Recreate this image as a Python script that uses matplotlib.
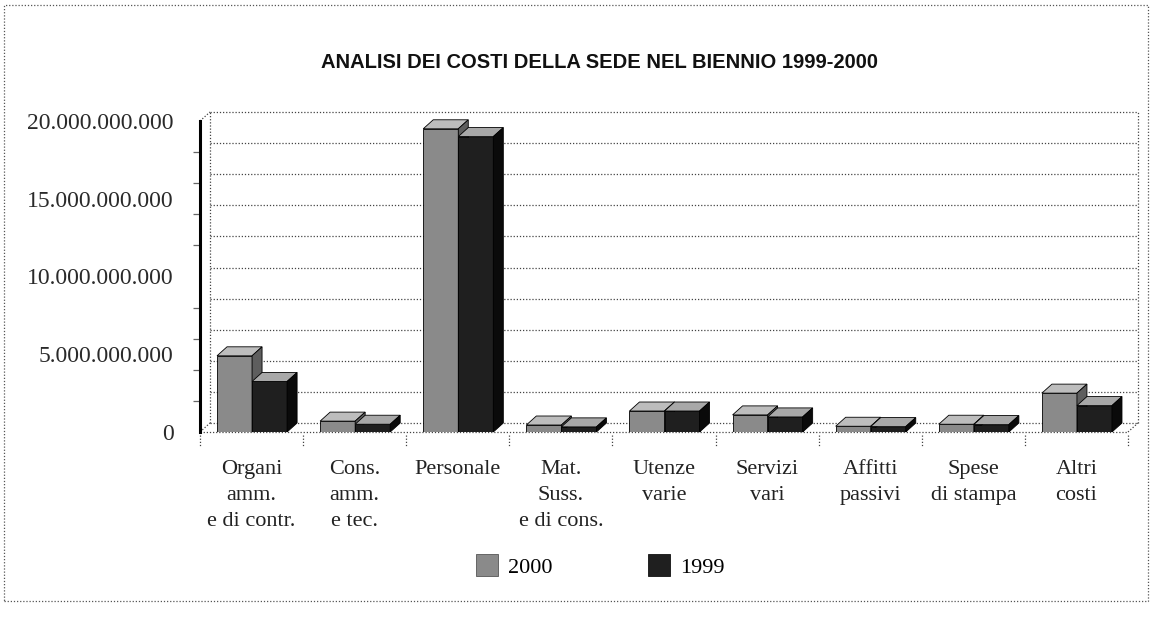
import matplotlib.pyplot as plt
import numpy as np
from matplotlib.patches import Polygon, Rectangle, Patch

categories = ['Organi\namm.\ne di contr.', 'Cons.\namm.\ne tec.', 'Personale',
              'Mat.\nSuss.\ne di cons.', 'Utenze\nvarie', 'Servizi\nvari',
              'Affitti\npassivi', 'Spese\ndi stampa', 'Altri\ncosti']
costi_2000 = [4.9e9, 0.7e9, 19.5e9, 0.45e9, 1.35e9, 1.1e9, 0.37e9, 0.5e9, 2.5e9]
costi_1999 = [3.25e9, 0.5e9, 19.0e9, 0.33e9, 1.35e9, 0.97e9, 0.35e9, 0.48e9, 1.7e9]
y_labels = [0, 5e9, 10e9, 15e9, 20e9]

W, H = 1153, 618
fig = plt.figure(figsize=(W / 100, H / 100), dpi=100)
fig.patch.set_facecolor('white')

# front plane of the 3d box
left, right, bottom, top = 200, 1128, 432, 121
ax = fig.add_axes([left / W, 1 - bottom / H, (right - left) / W, (bottom - top) / H])
n = len(categories)
ymax = 20e9
ax.set_xlim(0, n)
ax.set_ylim(0, ymax)
for s in ax.spines.values():
    s.set_visible(False)

# depth offsets (pixels -> data)
dx = 10 * n / (right - left)
dy = 9 * ymax / (bottom - top)

grid_kw = dict(color='#444444', lw=0.9, ls=(0, (1, 1.5)), clip_on=False, zorder=1)
for v in np.arange(0, ymax + 1, 2e9):
    ax.plot([dx, n + dx], [v + dy, v + dy], **grid_kw)
ax.plot([dx, dx], [dy, ymax + dy], **grid_kw)
ax.plot([n + dx, n + dx], [dy, ymax + dy], **grid_kw)
ax.plot([0, n], [0, 0], **grid_kw)
ax.plot([n, n + dx], [0, dy], **grid_kw)
ax.plot([0, dx], [0, dy], **grid_kw)
ax.plot([0, dx], [ymax, ymax + dy], **grid_kw)
for i in range(n + 1):
    ax.plot([i, i], [-0.2e9, -0.9e9], **grid_kw)

# front value axis
ax.plot([0, 0], [0, ymax], color='black', lw=2.2, clip_on=False, zorder=2)
ax.set_yticks(y_labels)
ax.set_yticklabels([f'{v:,.0f}'.replace(',', '.') for v in y_labels],
                   family='Liberation Serif', fontsize=17, color='#2a2a2a')
ax.set_yticks(np.arange(0, ymax + 1, 2e9), minor=True)
ax.tick_params(axis='y', which='major', length=0, pad=19)
ax.tick_params(axis='y', which='minor', length=5, width=0.9, color='#666666')

ax.set_xticks(np.arange(n) + 0.5)
ax.set_xticklabels(categories, family='Liberation Serif', fontsize=16,
                   color='#222222', linespacing=1.5)
ax.tick_params(axis='x', length=0, pad=20)

bw = 35 / 103
x0_2000 = 17 / 103
styles = [
    (costi_2000, x0_2000, '#8a8a8a', '#bdbdbd', '#5e5e5e'),
    (costi_1999, x0_2000 + bw, '#1f1f1f', '#a8a8a8', '#0a0a0a'),
]
for i in range(n):
    for vals, off, front, topc, side in styles:
        h = vals[i]
        xa = i + off
        xb = xa + bw
        ax.bar(xa, h, width=bw, align='edge', color=front, edgecolor='black',
               lw=0.6, zorder=3)
        ax.add_patch(Polygon([(xa, h), (xb, h), (xb + dx, h + dy), (xa + dx, h + dy)],
                             closed=True, fc=topc, ec='black', lw=0.6, zorder=3,
                             clip_on=False))
        ax.add_patch(Polygon([(xb, 0), (xb + dx, dy), (xb + dx, h + dy), (xb, h)],
                             closed=True, fc=side, ec='black', lw=0.6, zorder=3,
                             clip_on=False))

fig.text(599 / W, 1 - 62 / H, 'ANALISI DEI COSTI DELLA SEDE NEL BIENNIO 1999-2000',
         ha='center', va='center', family='Liberation Sans', fontweight='bold',
         fontsize=14.5, color='#111111')

handles = [Patch(fc='#8a8a8a', ec='#555555', lw=0.6),
           Patch(fc='#1f1f1f', ec='#111111', lw=0.6)]
fig.legend(handles, ['2000', '1999'], loc='center', ncol=2,
           bbox_to_anchor=(600 / W, 1 - 566 / H), frameon=False,
           prop={'family': 'Liberation Serif', 'size': 16},
           handlelength=1.0, handleheight=1.1, handletextpad=0.45,
           columnspacing=4.3)

fig.add_artist(Rectangle((4 / W, 1 - 601 / H), 1144 / W, 596 / H,
                         transform=fig.transFigure, fill=False,
                         ec='#555555', lw=0.9, ls=(0, (1, 1.5))))

fig.savefig('out.png', dpi=100)
